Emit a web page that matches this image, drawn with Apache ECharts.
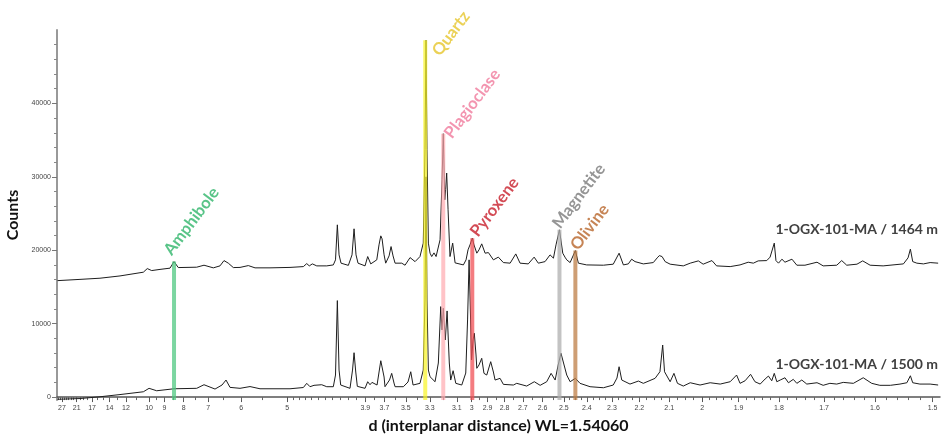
<!DOCTYPE html>
<html><head><meta charset="utf-8">
<script src="https://cdn.jsdelivr.net/npm/echarts@6/dist/echarts.min.js"></script>
<style>html,body{margin:0;padding:0;background:#fff}#c{width:941px;height:437px}</style>
</head><body><div id="c"></div>
<script>
// x tick labels (d-spacing, Å)
const tickLabels = ['27','21','17','14','12','10','9','8','7','6','5','3.9','3.7','3.5','3.3','3.1','3','2.9','2.8','2.7','2.6','2.5','2.4','2.3','2.2','2.1','2','1.9','1.8','1.7','1.6','1.5'];
const yTickValues = [0,10000,20000,30000,40000];

// 1-OGX-101-MA / 1464 m
const topD = [29.60,19.98,15.50,12.66,10.43,10.13,9.812,9.266,8.684,8.471,
8.254,7.437,7.156,6.827,6.609,6.485,6.356,6.213,6.032,5.821,
5.661,5.334,4.952,4.726,4.672,4.632,4.585,4.519,4.376,4.287,
4.258,4.234,4.212,4.187,4.096,4.052,4.028,4.005,3.982,3.903,
3.874,3.841,3.778,3.755,3.737,3.724,3.704,3.688,3.655,3.636,
3.617,3.598,3.537,3.507,3.463,3.420,3.379,3.352,3.338,3.330,
3.322,3.311,3.298,3.285,3.267,3.251,3.221,3.206,3.197,3.186,
3.180,3.172,3.162,3.148,3.129,3.112,3.055,3.037,3.024,3.011,
2.996,2.985,2.967,2.953,2.936,2.915,2.895,2.865,2.836,2.807,
2.769,2.738,2.715,2.672,2.642,2.621,2.588,2.564,2.548,2.536,
2.520,2.505,2.495,2.487,2.472,2.449,2.436,2.401,2.333,2.295,
2.273,2.257,2.239,2.227,2.215,2.186,2.152,2.139,2.132,2.123,
2.113,2.097,2.056,2.035,2.011,1.997,1.972,1.959,1.922,1.896,
1.875,1.862,1.850,1.829,1.821,1.811,1.807,1.801,1.793,1.786,
1.770,1.759,1.741,1.715,1.702,1.674,1.664,1.654,1.634,1.623,
1.609,1.585,1.549,1.541,1.537,1.533,1.526,1.515,1.504,1.491];
const topCounts = [15860,16030,16190,16500,17010,17500,17230,17390,17560,18450,
17640,17690,17960,17600,17870,18590,18240,17640,17660,17910,
17600,17600,17660,17770,18180,17870,18140,17870,17870,18000,
18690,23460,19370,18240,17940,19370,22920,19370,18240,17870,
19140,18140,18690,20730,21960,21550,19370,18240,19230,20500,
19230,18240,18240,17960,19000,18450,19140,20970,33690,48600,
33690,20970,19600,19140,19640,19140,21420,29600,35870,26870,
28240,30510,25510,19140,20970,18280,18000,18690,20050,20730,
21650,20730,19600,20050,20870,19600,19680,18690,19060,18320,
18240,19500,18240,18140,19060,18240,18450,19370,18920,20730,
22780,19600,19060,18690,18320,19950,18240,18000,17960,18100,
19600,18000,18140,18780,18450,18140,18320,18960,19270,19140,
18450,18100,17870,18240,18550,18100,18590,17870,17770,18000,
18370,18240,18550,18590,19060,20970,18590,18240,18780,18370,
18780,17960,17960,18370,17870,17960,18590,17960,18100,18550,
17960,17870,18140,18960,20150,18450,18240,18140,18320,18240];

// 1-OGX-101-MA / 1500 m
const bottomD = [29.60,19.98,15.50,12.66,10.43,10.00,9.476,8.471,7.437,7.156,
6.770,6.546,6.424,6.307,6.032,5.780,5.548,4.952,4.726,4.672,
4.621,4.560,4.447,4.376,4.287,4.258,4.234,4.212,4.191,4.076,
4.046,4.028,4.008,3.990,3.903,3.874,3.849,3.828,3.775,3.737,
3.704,3.695,3.651,3.630,3.608,3.598,3.522,3.481,3.457,3.437,
3.379,3.352,3.338,3.330,3.322,3.311,3.298,3.259,3.234,3.216,
3.206,3.197,3.182,3.169,3.153,3.143,3.126,3.107,3.066,3.039,
3.027,3.017,3.007,3.001,2.991,2.983,2.972,2.967,2.953,2.936,
2.922,2.905,2.881,2.865,2.855,2.826,2.807,2.751,2.733,2.680,
2.641,2.612,2.580,2.559,2.540,2.526,2.513,2.499,2.487,2.472,
2.449,2.429,2.387,2.333,2.295,2.281,2.273,2.263,2.233,2.203,
2.186,2.146,2.130,2.121,2.115,2.097,2.085,2.074,2.056,2.035,
2.006,1.977,1.949,1.922,1.905,1.896,1.883,1.869,1.858,1.845,
1.833,1.825,1.817,1.811,1.805,1.797,1.786,1.778,1.767,1.759,
1.748,1.737,1.715,1.702,1.688,1.674,1.661,1.641,1.622,1.606,
1.591,1.572,1.555,1.543,1.537,1.533,1.521,1.504,1.491];
const bottomCounts = [-300,-200,40,340,720,1190,860,1130,1190,1680,
1090,1640,2320,1320,1190,1430,1130,1130,1300,1870,
1410,1600,1680,1410,1410,3000,13140,3680,1640,1190,
3680,6040,3410,1460,1190,2090,1680,2000,1640,4950,
2730,1410,2320,3230,1910,1410,1410,2050,3450,1640,
1870,3680,13230,30000,13230,3680,2770,2090,4640,12320,
9140,12100,7780,11730,4640,2320,3590,1870,1640,3270,
10500,18690,10500,5050,7780,8690,5730,3920,4370,5280,
3230,3000,4820,3410,2320,2550,1730,1640,1870,1500,
2090,1600,2090,3230,2320,4370,5960,4370,3000,2090,
2550,1870,1410,1270,1640,2590,4130,2320,1770,2180,
1870,2550,3450,7090,3450,2090,3230,1870,1500,1950,
1640,1950,1770,2090,3000,1870,2220,3100,2090,1770,
2460,2860,2220,3230,2090,2320,2630,1950,2410,1870,
2320,1770,1950,1600,1870,1770,2000,1870,2630,1870,
1600,1600,1770,1950,2900,1950,1770,1770,1640];

// mineral reference lines
const minerals = ['Amphibole','Quartz','Plagioclase','Pyroxene','Magnetite','Olivine'];
const mineralD = [8.47, 3.336, 3.197, 2.996, 2.52, 2.449];
const mineralTop = [18450, 48600, 35870, 21650, 22780, 19950];

const sampleLabels = ['1-OGX-101-MA / 1464 m', '1-OGX-101-MA / 1500 m'];
const xName = 'd (interplanar distance) WL=1.54060';
const yName = 'Counts';

// ---- styling ----
const barColors = ['rgba(80,200,130,0.75)','rgba(248,244,40,0.72)','rgba(255,170,175,0.7)','rgba(240,80,85,0.75)','rgba(175,175,175,0.75)','rgba(190,125,70,0.75)'];
const labelColors = ['#2fb56a','#e6c52c','#f07a9c','#c81e2a','#7a7a7a','#b8652b'];
const labelOffsets = [[-6,-8],[11,14],[5,3],[2,-3],[-3,-3],[-1,-2]];

const X_MIN = 1/29.92, X_MAX = 1/1.488, Y_MIN = -400, Y_MAX = 50000;
const labelVals = tickLabels.map(s => 1/parseFloat(s));

const minorVals = [];
for (let d = 29; d > 10; d -= 1) minorVals.push(1/d);
for (let k = 19; k > 10; k--) minorVals.push(1/(k*0.5));
for (let k = 49; k > 30; k--) minorVals.push(1/(k*0.1));
for (let k = 59; k > 50; k--) minorVals.push(1/(k*0.05));
for (let k = 99; k > 80; k--) minorVals.push(1/(k*0.025));
for (let k = 99; k >= 75; k--) minorVals.push(1/(k*0.02));
const yMinor = [];
for (let v = 2000; v <= 50000; v += 2000) if (v % 10000 !== 0) yMinor.push(v);

const series = [];
series.push({
  type: 'line', silent: true, z: 2, symbol: 'none', animation: false,
  data: topD.map((d, i) => [1/d, topCounts[i]]),
  lineStyle: { color: '#1e1e1e', width: 1 }
});
series.push({
  type: 'line', silent: true, z: 2, symbol: 'none', animation: false,
  data: bottomD.map((d, i) => [1/d, bottomCounts[i]]),
  lineStyle: { color: '#1e1e1e', width: 1 }
});
minerals.forEach((m, i) => {
  series.push({
    type: 'line', xAxisIndex: 0, yAxisIndex: 0, silent: true, z: 3,
    symbol: 'none', animation: false,
    data: [[1/mineralD[i], Y_MIN], [1/mineralD[i], mineralTop[i]]],
    lineStyle: { color: barColors[i], width: 4 }
  });
});
series.push({
  type: 'scatter', silent: true, z: 4, symbolSize: 1, animation: false,
  itemStyle: { color: 'transparent' },
  data: minerals.map((m, i) => ({
    value: [1/mineralD[i], mineralTop[i]],
    label: {
      show: true, formatter: m, position: labelOffsets[i], rotate: 53,
      align: 'left', verticalAlign: 'middle',
      color: labelColors[i], fontSize: 16.5, fontWeight: 'bold', fontFamily: 'Lato'
    }
  }))
});

const chart = echarts.init(document.getElementById('c'), null, { renderer: 'canvas' });
chart.setOption({
  backgroundColor: '#fff',
  animation: false,
  grid: { left: 57, right: 1, top: 30, bottom: 37, containLabel: false, outerBoundsMode: 'none' },
  xAxis: [{
    type: 'value', min: X_MIN, max: X_MAX,
    axisLine: { show: true, lineStyle: { color: '#555', width: 1.5 } },
    axisTick: { show: true, customValues: labelVals, length: 5, lineStyle: { color: '#555' } },
    axisLabel: {
      customValues: labelVals, fontSize: 7, color: '#444', margin: 5, fontFamily: 'Liberation Sans',
      formatter: v => { let bi = 0, bd = Infinity; labelVals.forEach((lv, i) => { const dd = Math.abs(lv - v); if (dd < bd) { bd = dd; bi = i; } }); return tickLabels[bi]; }
    },
    splitLine: { show: false },
    name: xName, nameLocation: 'middle', nameGap: 18,
    nameTextStyle: { fontSize: 16, fontWeight: 'bold', color: '#111', fontFamily: 'Lato' }
  }, {
    type: 'value', min: X_MIN, max: X_MAX, position: 'bottom',
    axisLine: { show: false },
    axisTick: { show: true, customValues: minorVals, length: 3, lineStyle: { color: '#666' } },
    axisLabel: { show: false }, splitLine: { show: false }
  }],
  yAxis: [{
    type: 'value', min: Y_MIN, max: Y_MAX,
    axisLine: { show: true, lineStyle: { color: '#999', width: 2 } },
    axisTick: { show: true, customValues: yTickValues, length: 5, lineStyle: { color: '#777' } },
    axisLabel: { customValues: yTickValues, fontSize: 7, color: '#444', margin: 6, fontFamily: 'Liberation Sans', formatter: v => String(Math.round(v)) },
    splitLine: { show: false },
    name: yName, nameLocation: 'middle', nameGap: 32, nameRotate: 90,
    nameTextStyle: { fontSize: 16, fontWeight: 'bold', color: '#111', fontFamily: 'Lato' }
  }, {
    type: 'value', min: Y_MIN, max: Y_MAX, position: 'left',
    axisLine: { show: false },
    axisTick: { show: true, customValues: yMinor, length: 3, lineStyle: { color: '#888' } },
    axisLabel: { show: false }, splitLine: { show: false }
  }],
  series: series,
  graphic: [
    { type: 'text', right: 3, top: 222, style: { text: sampleLabels[0], font: 'bold 14px Lato', fill: '#404040' } },
    { type: 'text', right: 3, top: 357, style: { text: sampleLabels[1], font: 'bold 14px Lato', fill: '#404040' } }
  ]
});
</script></body></html>
